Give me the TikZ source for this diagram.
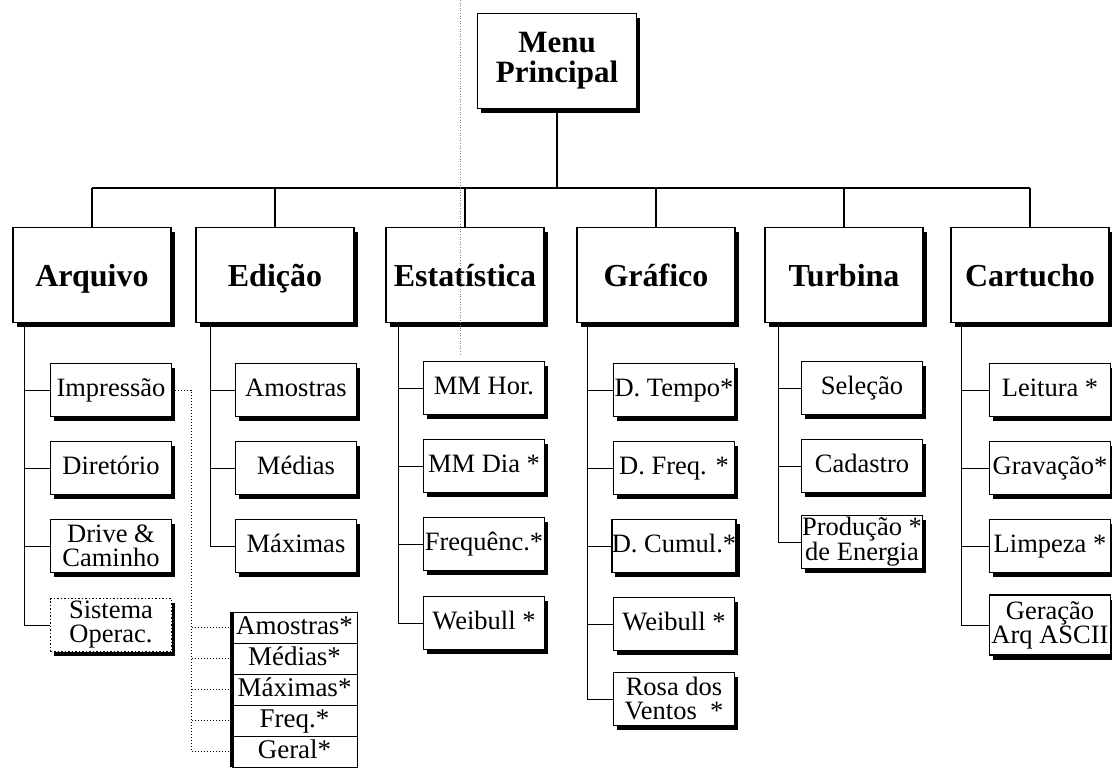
\documentclass[tikz,border=0pt]{standalone}
\usepackage{fontspec}
\setmainfont{Liberation Serif}
\usetikzlibrary{shadows}
\begin{document}
\begin{tikzpicture}[x=1pt,y=-1pt,
  shad/.style={drop shadow={shadow xshift=3.5pt,shadow yshift=-4.5pt,fill=black,opacity=1}},
  menubox/.style={draw,line width=1.8pt,fill=white,minimum width=159pt,minimum height=95pt,inner sep=0pt,align=center,font=\fontsize{31}{30}\selectfont\bfseries,shad},
  topbox/.style={draw,line width=1.8pt,fill=white,minimum width=158pt,minimum height=95pt,inner sep=0pt,text height=22pt,text depth=0pt,font=\fontsize{32}{30}\selectfont\bfseries,shad},
  subbox/.style={draw,line width=1.5pt,fill=white,minimum width=121pt,minimum height=53pt,inner sep=0pt,align=center,font=\fontsize{26.5}{24}\selectfont,shad},
  onebox/.style={subbox,text height=18pt,text depth=5pt},
  dotbox/.style={subbox,dotted,line width=1.1pt},
  stackbox/.style={draw,line width=0.8pt,fill=white,minimum width=125pt,minimum height=31pt,inner sep=0pt,text height=18pt,text depth=4pt,font=\fontsize{27}{26}\selectfont},
  bus/.style={line width=2pt},
  conn/.style={line width=0.9pt},
  dotconn/.style={line width=1pt,dotted},
]
\useasboundingbox (0,0) rectangle (1112,768);
\fill[white] (0,0) rectangle (1112,768);

% main menu
\node[menubox] (menu) at (557,61) {Menu\\Principal};

% top-level boxes
\node[topbox] (arq) at (92,275) {Arquivo};
\node[topbox] (edi) at (275,275) {Edição};
\node[topbox] (est) at (465,275) {Estatística};
\node[topbox] (gra) at (656,275) {Gráfico};
\node[topbox] (tur) at (844,275) {Turbina};
\node[topbox] (car) at (1030,275) {Cartucho};

% bus
\coordinate (busy) at (0,188);
\draw[bus] (menu.south) -- (menu.south |- busy);
\draw[bus] (arq.north |- busy) -- (car.north |- busy);
\foreach \n in {arq,edi,est,gra,tur,car}
  \draw[bus] (\n.north) -- (\n.north |- busy);

% Arquivo children
\node[onebox] (a1) at (111,390) {Impressão};
\node[onebox] (a2) at (111,468) {Diretório};
\node[subbox] (a3) at (111,546) {Drive \&\\Caminho};
\node[dotbox] (a4) at (111,625) {Sistema\\Operac.};

% Edição children
\node[onebox] (e1) at (296,390) {Amostras};
\node[onebox] (e2) at (296,468) {Médias};
\node[onebox] (e3) at (296,546) {Máximas};

% Estatística children
\node[onebox] (s1) at (484,388) {MM Hor.};
\node[onebox] (s2) at (484,466) {MM Dia *};
\node[onebox] (s3) at (484,544) {Frequênc.*};
\node[onebox] (s4) at (484,623) {Weibull *};

% Gráfico children
\node[onebox] (g1) at (674,390) {D. Tempo*};
\node[onebox] (g2) at (674,468) {D. Freq. *};
\node[onebox] (g3) at (674,546) {D. Cumul.*};
\node[onebox] (g4) at (674,624) {Weibull *};
\node[subbox] (g5) at (674,699) {Rosa dos\\Ventos \ *};

% Turbina children
\node[onebox] (t1) at (862,388) {Seleção};
\node[onebox] (t2) at (862,466) {Cadastro};
\node[subbox] (t3) at (862,542) {Produção *\\de Energia};

% Cartucho children
\node[onebox] (c1) at (1050,390) {Leitura *};
\node[onebox] (c2) at (1050,468) {Gravação*};
\node[onebox] (c3) at (1050,546) {Limpeza *};
\node[subbox,minimum height=60pt] (c4) at (1050,625) {Geração\\Arq ASCII};

% column connectors
\coordinate (av) at ([xshift=12pt]arq.south west);
\draw[conn] (av) |- (a4.west);
\foreach \n in {a1,a2,a3} \draw[conn] (\n.west) -- (\n.west -| av);

\coordinate (ev) at ([xshift=15pt]edi.south west);
\draw[conn] (ev) |- (e3.west);
\foreach \n in {e1,e2} \draw[conn] (\n.west) -- (\n.west -| ev);

\coordinate (sv) at ([xshift=13pt]est.south west);
\draw[conn] (sv) |- (s4.west);
\foreach \n in {s1,s2,s3} \draw[conn] (\n.west) -- (\n.west -| sv);

\coordinate (gv) at ([xshift=11pt]gra.south west);
\draw[conn] (gv) |- (g5.west);
\foreach \n in {g1,g2,g3,g4} \draw[conn] (\n.west) -- (\n.west -| gv);

\coordinate (tv) at ([xshift=14pt]tur.south west);
\draw[conn] (tv) |- (t3.west);
\foreach \n in {t1,t2} \draw[conn] (\n.west) -- (\n.west -| tv);

\coordinate (cv) at ([xshift=11pt]car.south west);
\draw[conn] (cv) |- (c4.west);
\foreach \n in {c1,c2,c3} \draw[conn] (\n.west) -- (\n.west -| cv);

% Impressão sub-menu stack
\node[stackbox] (p1) at (294.5,627.5) {Amostras*};
\node[stackbox] (p2) at (294.5,658.5) {Médias*};
\node[stackbox] (p3) at (294.5,689.5) {Máximas*};
\node[stackbox] (p4) at (294.5,720.5) {Freq.*};
\node[stackbox] (p5) at (294.5,751.5) {Geral*};
\draw[line width=4pt] (p1.north west) -- (p5.south west);

\coordinate (pv) at (191,390);
\draw[dotconn] (a1.east) -- (a1.east -| pv) |- (p5.west);
\foreach \n in {p1,p2,p3,p4} \draw[dotconn] (\n.west) -- (\n.west -| pv);

% faint fold line
\draw[dotted,gray,line width=0.6pt] (460,0) -- (460,355);
\end{tikzpicture}
\end{document}
